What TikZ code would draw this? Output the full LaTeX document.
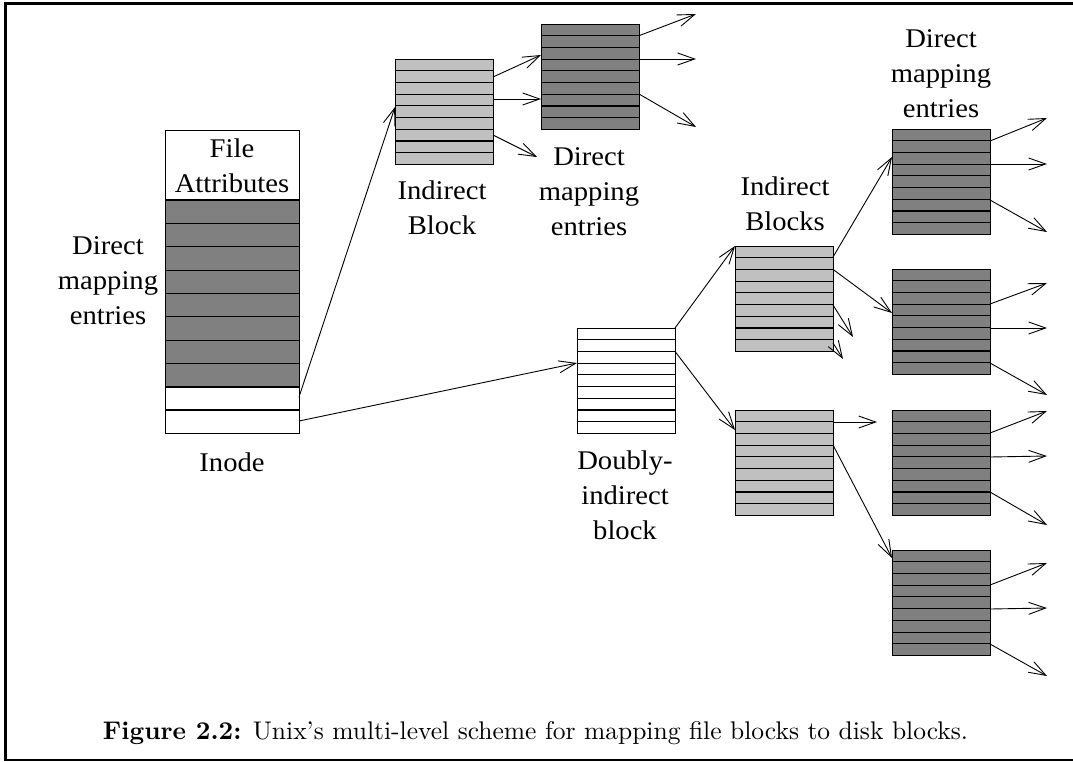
\documentclass[tikz,border=0pt]{standalone}
\usepackage{fontspec}
\usetikzlibrary{arrows.meta,calc}
\newfontfamily\labelfont{Liberation Serif}[FakeStretch=1.06]
\definecolor{lightfill}{RGB}{192,192,192}
\definecolor{darkfill}{RGB}{128,128,128}
\tikzset{
  blockbox/.style={draw, line width=1pt, minimum width=98pt, minimum height=105.5pt,
                   inner sep=0pt, outer sep=0pt, anchor=north west},
  rowline/.style={line width=1.1pt},
  ptr/.style={line width=0.9pt, -{Straight Barb[length=17pt,width=12pt,line width=0.9pt]}},
  lbl/.style={font=\labelfont\fontsize{27}{35}\selectfont, align=center, inner sep=0pt},
  frameline/.style={line width=2.6pt},
}
% a block of nine entries: name, x, y (top left), fill colour
\newcommand{\blockstack}[4]{%
  \node[blockbox, fill=#4] (#1) at (#2,#3) {};
  \foreach \k in {1,...,8}
    \draw[rowline] ($(#1.north west)+(0,\k*11.72)$) -- ($(#1.north east)+(0,\k*11.72)$);
}
\begin{document}
\begin{tikzpicture}[x=1pt,y=-1pt]
\useasboundingbox (0,0) rectangle (1073,761);
\fill[white] (0,0) rectangle (1073,761);

% frame
\draw[frameline] (1075,3.7) -- (5.3,3.7) -- (5.3,759.8) -- (1075,759.8);

% inode
\node[draw, line width=1pt, minimum width=134pt, minimum height=303pt,
      inner sep=0pt, outer sep=0pt, anchor=north west] (inode) at (165,130) {};
\fill[darkfill] ($(inode.north west)+(0,70)$) rectangle ($(inode.north east)+(0,257)$);
\foreach \k in {0,...,8}
  \draw[rowline] ($(inode.north west)+(0,70+\k*23.375)$) -- ($(inode.north east)+(0,70+\k*23.375)$);
\draw[line width=2pt] ($(inode.north west)+(0,280)$) -- ($(inode.north east)+(0,280)$);
\draw[line width=1pt] (inode.north west) rectangle (inode.south east);
\node[lbl] (fattr) at (232,166) {File\\Attributes};
\node[lbl] (inodelbl) at (232,462) {Inode};
\node[lbl] (dmleft) at (108,281) {Direct\\mapping\\entries};

% blocks
\blockstack{ib}{395}{59}{lightfill}
\blockstack{db0}{541}{24}{darkfill}
\blockstack{dib}{577}{328}{white}
\blockstack{ibA}{735}{246}{lightfill}
\blockstack{ibB}{735}{410}{lightfill}
\blockstack{dA}{892}{129}{darkfill}
\blockstack{dB}{892}{269}{darkfill}
\blockstack{dC}{892}{410}{darkfill}
\blockstack{dD}{892}{550}{darkfill}

% labels
\node[lbl] (iblbl) at (442,208) {Indirect\\Block};
\node[lbl] (dmtop) at (589,192) {Direct\\mapping\\entries};
\node[lbl] (ibslbl) at (785,204) {Indirect\\Blocks};
\node[lbl] (dmright) at (941,74) {Direct\\mapping\\entries};
\node[lbl] (diblbl) at (625,495) {Doubly-\\indirect\\block};

% free ends of the pointers
\coordinate (ibC) at (537,157);
\coordinate (t0a) at (696,14);  \coordinate (t0b) at (696,59);  \coordinate (t0c) at (696,127);
\coordinate (ibAc) at (853,337); \coordinate (ibAd) at (843,359);
\coordinate (ibBa) at (877,422);
\coordinate (tAa) at (1047,118); \coordinate (tAb) at (1047,164); \coordinate (tAc) at (1047,232);
\coordinate (tBa) at (1047,283); \coordinate (tBb) at (1047,328); \coordinate (tBc) at (1047,395);
\coordinate (tCa) at (1047,411); \coordinate (tCb) at (1047,456); \coordinate (tCc) at (1047,525);
\coordinate (tDa) at (1047,563); \coordinate (tDb) at (1047,608); \coordinate (tDc) at (1047,676);

% inode pointers
\draw[ptr] ($(inode.north east)+(0,267)$) -- ($(ib.north west)+(0,48)$);
\draw[ptr] ($(inode.north east)+(0,291)$) -- ($(dib.north west)+(0,35)$);

% single indirect block
\draw[ptr] ($(ib.north east)+(0,18)$) -- ($(db0.north west)+(0,31)$);
\draw[ptr] ($(ib.north east)+(0,40)$) -- ($(db0.north west)+(0,75)$);
\draw[ptr] ($(ib.north east)+(0,76)$) -- (ibC);
\draw[ptr] ($(db0.north east)+(0,11.7)$) -- (t0a);
\draw[ptr] ($(db0.north east)+(0,35)$) -- (t0b);
\draw[ptr] ($(db0.north east)+(0,70)$) -- (t0c);

% doubly-indirect block
\draw[ptr] (dib.north east) -- (ibA.north west);
\draw[ptr] ($(dib.north east)+(0,23.4)$) -- ($(ibB.north west)+(0,20)$);

% second-level indirect blocks
\draw[ptr] ($(ibA.north east)+(0,11)$) -- ($(dA.north west)+(0,28)$);
\draw[ptr] ($(ibA.north east)+(0,23.4)$) -- ($(dB.north west)+(0,44)$);
\draw[ptr] ($(ibA.north east)+(0,59)$) -- (ibAc);
\draw[ptr] ($(ibA.north east)+(0,97)$) -- (ibAd);
\draw[ptr] ($(ibB.north east)+(0,12)$) -- (ibBa);
\draw[ptr] ($(ibB.north east)+(0,35)$) -- ($(dD.north west)+(0,8)$);

% direct blocks
\draw[ptr] ($(dA.north east)+(0,12)$) -- (tAa);
\draw[ptr] ($(dA.north east)+(0,35)$) -- (tAb);
\draw[ptr] ($(dA.north east)+(0,71)$) -- (tAc);
\draw[ptr] ($(dB.north east)+(0,35)$) -- (tBa);
\draw[ptr] ($(dB.north east)+(0,59)$) -- (tBb);
\draw[ptr] ($(dB.north east)+(0,94)$) -- (tBc);
\draw[ptr] ($(dC.north east)+(0,23)$) -- (tCa);
\draw[ptr] ($(dC.north east)+(0,47)$) -- (tCb);
\draw[ptr] ($(dC.north east)+(0,82)$) -- (tCc);
\draw[ptr] ($(dD.north east)+(0,35)$) -- (tDa);
\draw[ptr] ($(dD.north east)+(0,59)$) -- (tDb);
\draw[ptr] ($(dD.north east)+(0,94)$) -- (tDc);

% caption
\node[inner sep=0pt] (caption) at (535.5,733)
  {\resizebox{865pt}{!}{\textbf{Figure 2.2:} Unix’s multi-level scheme for mapping file blocks to disk blocks.}};
\end{tikzpicture}
\end{document}
